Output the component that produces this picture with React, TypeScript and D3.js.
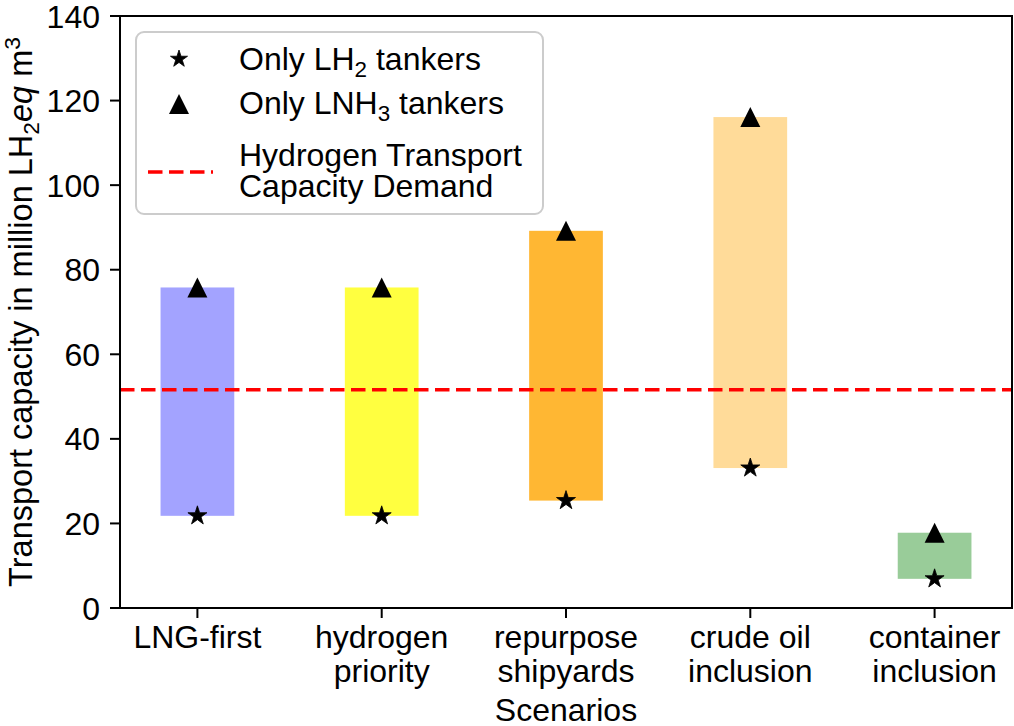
import React from "react";
import * as d3 from "d3";

const categories = [["LNG-first"], ["hydrogen", "priority"], ["repurpose", "shipyards"], ["crude oil", "inclusion"], ["container", "inclusion"]];
const onlyLH2 = [21.8, 21.8, 25.4, 33.1, 6.9];
const onlyLNH3 = [75.8, 75.8, 89.2, 116.1, 17.8];
const barColors = ["#a3a3ff", "#ffff40", "#ffb733", "#ffdb99", "#99cc99"];
const demand = 51.6;
const yTicks = [0, 20, 40, 60, 80, 100, 120, 140];

const W = 1014, H = 726;
const L = 120, R = 1012, T = 16, B = 608;
const FONT = "'Liberation Sans', Arial, Helvetica, sans-serif";
const FS = 32;

function starPath(r: number) {
  const pts: [number, number][] = [];
  const ri = r * 0.381966;
  for (let i = 0; i < 10; i++) {
    const a = -Math.PI / 2 + (i * Math.PI) / 5;
    const rr = i % 2 === 0 ? r : ri;
    pts.push([rr * Math.cos(a), rr * Math.sin(a)]);
  }
  return d3.line()(pts) + "Z";
}
function triPath(s: number) {
  return `M0,${-s}L${s},${s}L${-s},${s}Z`;
}

export default function App() {
  const x = d3.scaleLinear().domain([-0.42, 4.42]).range([L, R]);
  const y = d3.scaleLinear().domain([0, 140]).range([B, T]);
  const bw = x(0.2) - x(-0.2);
  const star = starPath(10);
  const tri = triPath(10);

  return (
    <svg width={W} height={H} style={{ position: "absolute", left: 0, top: 0, background: "#fff" }} fontFamily={FONT}>
      {onlyLH2.map((lo, i) => (
        <rect key={"b" + i} x={x(i) - bw / 2} width={bw} y={y(onlyLNH3[i])} height={y(lo) - y(onlyLNH3[i])} fill={barColors[i]} />
      ))}
      <line x1={L} x2={R} y1={y(demand)} y2={y(demand)} stroke="#ff0000" strokeWidth={3.5} strokeDasharray="14.5 6.5" />
      {onlyLH2.map((v, i) => (
        <path key={"s" + i} d={star} transform={`translate(${x(i)},${y(v)})`} fill="#000" stroke="#000" strokeWidth={0.8} />
      ))}
      {onlyLNH3.map((v, i) => (
        <path key={"t" + i} d={tri} transform={`translate(${x(i)},${y(v)})`} fill="#000" />
      ))}
      <rect x={L} y={T} width={R - L} height={B - T} fill="none" stroke="#000" strokeWidth={2} />
      {yTicks.map((t) => (
        <g key={"yt" + t}>
          <line x1={L - 10} x2={L} y1={y(t)} y2={y(t)} stroke="#000" strokeWidth={2} />
          <text x={L - 20} y={y(t)} dy="0.36em" textAnchor="end" fontSize={FS}>{t}</text>
        </g>
      ))}
      {categories.map((c, i) => (
        <g key={"xt" + i}>
          <line x1={x(i)} x2={x(i)} y1={B} y2={B + 10} stroke="#000" strokeWidth={2} />
          {c.map((ln, j) => (
            <text key={j} x={x(i)} y={648 + j * 34} textAnchor="middle" fontSize={FS}>{ln}</text>
          ))}
        </g>
      ))}
      <text x={(L + R) / 2} y={721} textAnchor="middle" fontSize={FS}>Scenarios</text>
      <text transform={`translate(32,${(T + B) / 2}) rotate(-90)`} textAnchor="middle" fontSize={32.5}>
        Transport capacity in million LH<tspan fontSize={32.5 * 0.7} dy={7}>2</tspan>
        <tspan dy={-7} fontStyle="italic">eq</tspan> m<tspan fontSize={32.5 * 0.7} dy={-12}>3</tspan>
      </text>
      <g>
        <rect x={136} y={32} width={407} height={182} rx={8} ry={8} fill="#fff" fillOpacity={0.8} stroke="#cccccc" strokeWidth={2} />
        <path d={starPath(9)} transform="translate(179,59)" fill="#000" stroke="#000" strokeWidth={0.8} />
        <text x={239} y={70} fontSize={FS}>Only LH<tspan fontSize={FS * 0.7} dy={7}>2</tspan><tspan dy={-7}> tankers</tspan></text>
        <path d={tri} transform="translate(179,104)" fill="#000" />
        <text x={239} y={114} fontSize={FS}>Only LNH<tspan fontSize={FS * 0.7} dy={7}>3</tspan><tspan dy={-7}> tankers</tspan></text>
        <line x1={148} x2={213} y1={172} y2={172} stroke="#ff0000" strokeWidth={3.5} strokeDasharray="14.5 6.5" />
        <text x={239} y={166} fontSize={FS}>Hydrogen Transport</text>
        <text x={239} y={197} fontSize={FS}>Capacity Demand</text>
      </g>
    </svg>
  );
}
